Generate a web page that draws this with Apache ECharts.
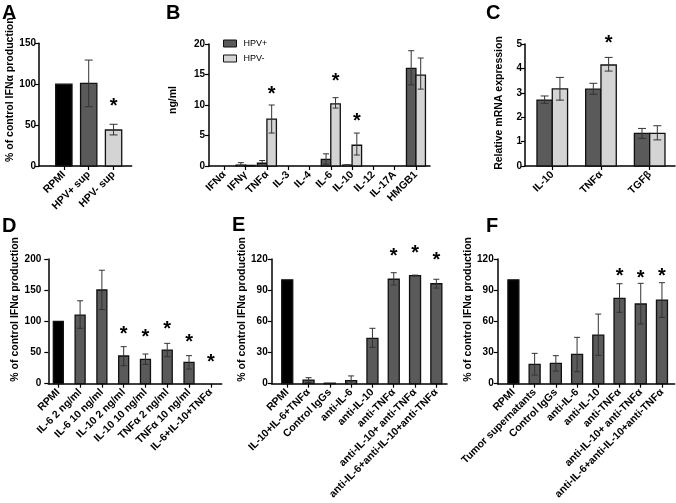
<!DOCTYPE html>
<html><head><meta charset="utf-8">
<script src="https://cdn.jsdelivr.net/npm/echarts@6/dist/echarts.min.js"></script>
<style>html,body{margin:0;padding:0;background:#fff}#c{width:676px;height:503px}</style>
</head><body><div id="c"></div>
<script>
// ---------- DATA ----------
const catsA = ['RPMI', 'HPV+ sup', 'HPV- sup'];
const valsA = [100, 101, 44];
const loA = [null, 72.5, 38];
const hiA = [null, 129.5, 51];
const starsA = [[2, 78.6]];

const catsB = ['IFNα', 'IFNγ', 'TNFα', 'IL-3', 'IL-4', 'IL-6', 'IL-10', 'IL-12', 'IL-17A', 'HMGB1'];
const hpvPosB = [0, 0.15, 0.45, 0, 0, 1.1, 0.15, 0, 0, 16.0];
const hpvPosLoB = [null, 0, 0, null, null, 0.3, 0.1, null, null, 13.3];
const hpvPosHiB = [null, 0.55, 0.9, null, null, 2.0, 0.2, null, null, 18.9];
const hpvNegB = [0, 0.1, 7.7, 0, 0, 10.2, 3.4, 0, 0, 14.9];
const hpvNegLoB = [null, null, 5.4, null, null, 9.5, 1.8, null, null, 12.6];
const hpvNegHiB = [null, null, 10.0, null, null, 11.2, 5.4, null, null, 17.7];
const starsB = [[2, 12.5], [5, 14.6], [6, 8.1]];

const catsC = ['IL-10', 'TNFα', 'TGFβ'];
const hpvPosC = [2.7, 3.15, 1.34];
const hpvPosLoC = [2.57, 2.94, 1.13];
const hpvPosHiC = [2.87, 3.39, 1.54];
const hpvNegC = [3.16, 4.14, 1.34];
const hpvNegLoC = [2.7, 3.89, 1.07];
const hpvNegHiC = [3.63, 4.45, 1.65];
const starsC = [[1, 5.23]];

const catsD = ['RPMI', 'IL-6 2 ng/ml', 'IL-6 10 ng/ml', 'IL-10 2 ng/ml', 'IL-10 10 ng/ml', 'TNFα 2 ng/ml', 'TNFα 10 ng/ml', 'IL-6+IL-10+TNFα'];
const valsD = [100, 110, 150.3, 44.4, 39, 54, 34.2, 0];
const loD = [null, 88.8, 119, 28.9, 31, 43.3, 23.5, null];
const hiD = [null, 133, 182, 59.4, 47.6, 64.7, 45, null];
const starsD = [[3, 86], [4, 81.8], [5, 95], [6, 73.8], [7, 41.7]];

const catsE = ['RPMI', 'IL-10+IL-6+TNFα', 'Control IgGs', 'anti-IL-6', 'anti-IL-10', 'anti-TNFα', 'anti-IL-10+ anti-TNFα', 'anti-IL-6+anti-IL-10+anti-TNFα'];
const valsE = [100, 3.5, 0.5, 3, 43.7, 100.5, 104, 96.2];
const loE = [null, 1.2, null, 0, 35, 95, 103.5, 92];
const hiE = [null, 5.8, null, 7.5, 53.3, 106.8, 104.5, 100.5];
const starsE = [[5, 127], [6, 129.6], [7, 123.2]];

const catsF = ['RPMI', 'Tumor supernatants', 'Control IgGs', 'anti-IL-6', 'anti-IL-10', 'anti-TNFα', 'anti-IL-10+ anti-TNFα', 'anti-IL-6+anti-IL-10+anti-TNFα'];
const valsF = [100, 18.6, 19.6, 28.2, 46.8, 82.1, 76.7, 80.5];
const loF = [null, 8.3, 12.2, 11.5, 27.3, 68.7, 57.4, 63.8];
const hiF = [null, 29.2, 27, 44.6, 67, 96.2, 96.6, 97.2];
const starsF = [[5, 107.8], [6, 105.2], [7, 107.2]];

const yNameIFN = '% of control IFNα production';

// ---------- STYLE ----------
const FONT = '"Liberation Sans", Arial, Helvetica, sans-serif';
const BLACK = '#000000', DARK = '#5a5a5a', LIGHT = '#d4d4d4';

const grids = [], xAxes = [], yAxes = [], series = [];

function barSeries(gi, g) {
  return {
    type: 'custom', name: g.name, xAxisIndex: gi, yAxisIndex: gi,
    itemStyle: { color: g.color || DARK },
    clip: false,
    encode: { x: 0, y: 1 },
    data: g.values.map((v, i) => [i, v]),
    renderItem: function (params, api) {
      const i = params.dataIndex;
      const v = g.values[i];
      const base = api.coord([i, 0]);
      const top = api.coord([i, v]);
      const cx = base[0] + g.offset;
      const w = g.width;
      const fill = g.colors ? g.colors[i] : g.color;
      const ch = [];
      if (v > 0) {
        ch.push({ type: 'rect', shape: { x: cx - w / 2, y: top[1], width: w, height: base[1] - top[1] },
          style: { fill: fill, stroke: '#111', lineWidth: 1.3 } });
      }
      const lo = g.lo ? g.lo[i] : null, hi = g.hi ? g.hi[i] : null;
      if (hi != null) {
        const yh = api.coord([i, hi])[1];
        const yl = lo != null ? api.coord([i, lo])[1] : top[1];
        const c = g.cap / 2;
        const st = { stroke: '#333', lineWidth: 1 };
        ch.push({ type: 'line', shape: { x1: cx, y1: yl, x2: cx, y2: yh }, style: st });
        ch.push({ type: 'line', shape: { x1: cx - c, y1: yh, x2: cx + c, y2: yh }, style: st });
        if (lo != null) ch.push({ type: 'line', shape: { x1: cx - c, y1: yl, x2: cx + c, y2: yl }, style: st });
      }
      return { type: 'group', children: ch };
    }
  };
}

function starSeries(gi, stars, offset) {
  return {
    type: 'custom', xAxisIndex: gi, yAxisIndex: gi, clip: false, silent: true,
    encode: { x: 0, y: 1 },
    data: stars,
    renderItem: function (params, api) {
      const p = api.coord([api.value(0), api.value(1)]);
      const fs = 20;
      return { type: 'text', style: { text: '*', x: p[0] + offset, y: p[1] + 0.23 * fs,
        align: 'center', verticalAlign: 'middle', font: 'bold ' + fs + 'px ' + FONT, fill: '#000' } };
    }
  };
}

function addPanel(p) {
  const gi = grids.length;
  grids.push({ left: p.left, top: p.top, width: p.width, height: p.height, containLabel: false, outerBoundsMode: 'none' });
  const idx = p.cats.map((c, i) => i);
  xAxes.push({
    type: 'value', gridIndex: gi, min: p.xMin, max: p.xMax,
    axisLine: { show: true, onZero: false, lineStyle: { color: '#000', width: 1.5 } },
    axisTick: { show: true, customValues: idx, length: 4, lineStyle: { color: '#000', width: 1.2 } },
    axisLabel: { customValues: idx, rotate: 45, margin: 7, formatter: v => p.cats[Math.round(v)],
      fontSize: 10.5, fontWeight: 'bold', color: '#000', fontFamily: FONT },
    splitLine: { show: false }
  });
  yAxes.push({
    type: 'value', gridIndex: gi, min: 0, max: p.yMax, interval: p.yInt,
    axisLine: { show: true, onZero: false, lineStyle: { color: '#000', width: 1.5 } },
    axisTick: { show: true, length: 4, lineStyle: { color: '#000', width: 1.2 } },
    axisLabel: { fontSize: 10, fontWeight: 'bold', color: '#000', fontFamily: FONT, margin: p.labelMargin },
    splitLine: { show: false },
    name: p.yName, nameLocation: 'middle', nameGap: p.nameGap,
    nameTextStyle: { fontSize: 10.5, fontWeight: 'bold', color: '#000', fontFamily: FONT, padding: [0, 0, 0, p.nameShift * 2] }
  });
  p.groups.forEach(g => series.push(barSeries(gi, g)));
  if (p.stars) series.push(starSeries(gi, p.stars, p.starOffset || 0));
}

addPanel({ left: 39, top: 43.3, width: 92.7, height: 122.7, xMin: -1.0, xMax: 2.73, yMax: 150, yInt: 50,
  cats: catsA, yName: yNameIFN, nameGap: 18, nameShift: 15, labelMargin: 3,
  groups: [{ name: 'A', values: valsA, lo: loA, hi: hiA, colors: [BLACK, DARK, LIGHT], width: 16.3, offset: 0, cap: 8 }],
  stars: starsA });

addPanel({ left: 209, top: 44, width: 221, height: 122, xMin: -0.72, xMax: 9.66, yMax: 20, yInt: 5,
  cats: catsB, yName: 'ng/ml', nameGap: 30, nameShift: 5, labelMargin: 4,
  groups: [
    { name: 'HPV+', values: hpvPosB, lo: hpvPosLoB, hi: hpvPosHiB, color: DARK, width: 9.5, offset: -4.75, cap: 6 },
    { name: 'HPV-', values: hpvNegB, lo: hpvNegLoB, hi: hpvNegHiB, color: LIGHT, width: 9.5, offset: 4.75, cap: 6 }],
  stars: starsB, starOffset: 4.75 });

addPanel({ left: 525, top: 44, width: 150, height: 122, xMin: -0.56, xMax: 2.52, yMax: 5, yInt: 1,
  cats: catsC, yName: 'Relative mRNA expression', nameGap: 20, nameShift: 2, labelMargin: 3,
  groups: [
    { name: 'HPV+', values: hpvPosC, lo: hpvPosLoC, hi: hpvPosHiC, color: DARK, width: 15.3, offset: -7.65, cap: 8 },
    { name: 'HPV-', values: hpvNegC, lo: hpvNegLoC, hi: hpvNegHiC, color: LIGHT, width: 15.3, offset: 7.65, cap: 8 }],
  stars: starsC, starOffset: 7.65 });

addPanel({ left: 48.3, top: 259, width: 173.4, height: 124.7, xMin: -0.46, xMax: 7.5, yMax: 200, yInt: 50,
  cats: catsD, yName: yNameIFN, nameGap: 27, nameShift: 12, labelMargin: 7,
  groups: [{ name: 'D', values: valsD, lo: loD, hi: hiD, colors: [BLACK, DARK, DARK, DARK, DARK, DARK, DARK, DARK], width: 10, offset: 0, cap: 6 }],
  stars: starsD });

addPanel({ left: 271.7, top: 259, width: 175.3, height: 124.7, xMin: -0.73, xMax: 7.5, yMax: 120, yInt: 30,
  cats: catsE, yName: yNameIFN, nameGap: 19.5, nameShift: 12, labelMargin: 4,
  groups: [{ name: 'E', values: valsE, lo: loE, hi: hiE, colors: [BLACK, DARK, DARK, DARK, DARK, DARK, DARK, DARK], width: 11, offset: 0, cap: 6 }],
  stars: starsE });

addPanel({ left: 497.7, top: 259, width: 177, height: 124.7, xMin: -0.74, xMax: 7.6, yMax: 120, yInt: 30,
  cats: catsF, yName: yNameIFN, nameGap: 20.5, nameShift: 12, labelMargin: 4,
  groups: [{ name: 'F', values: valsF, lo: loF, hi: hiF, colors: [BLACK, DARK, DARK, DARK, DARK, DARK, DARK, DARK], width: 11, offset: 0, cap: 6 }],
  stars: starsF });

const titleStyle = { fontSize: 20, fontWeight: 'bold', color: '#000', fontFamily: FONT };
const titles = [['A', 2, 3], ['B', 166, 3], ['C', 486, 3], ['D', 2, 216], ['E', 232, 215], ['F', 486, 216]]
  .map(t => ({ text: t[0], left: t[1], top: t[2], padding: 0, textStyle: titleStyle }));

const chart = echarts.init(document.getElementById('c'), null, { renderer: 'canvas' });
chart.setOption({
  animation: false,
  backgroundColor: '#fff',
  title: titles,
  legend: {
    orient: 'vertical', left: 223, top: 39, itemWidth: 13, itemHeight: 7, itemGap: 6, padding: 0,
    icon: 'rect',
    data: [
      { name: 'HPV+', itemStyle: { color: DARK, borderColor: '#111', borderWidth: 1 } },
      { name: 'HPV-', itemStyle: { color: LIGHT, borderColor: '#111', borderWidth: 1 } }],
    textStyle: { fontSize: 9, color: '#000', fontFamily: FONT, padding: [0, 0, 0, 2] }
  },
  grid: grids, xAxis: xAxes, yAxis: yAxes, series: series
});
</script></body></html>
